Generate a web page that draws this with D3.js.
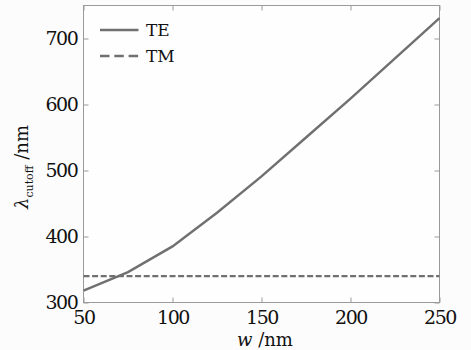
<!DOCTYPE html>
<html>
<head>
<meta charset="utf-8">
<script src="https://cdn.jsdelivr.net/npm/d3@7"></script>
<style>
  body { margin: 0; background: #fcfcfc; }
  svg { display: block; }
</style>
</head>
<body>
<svg></svg>
<script>
(function() {

  // width w (nm)
  var widths = [50, 75, 100, 125, 150, 175, 200, 225, 250];
  // cutoff wavelength, TE mode (nm)
  var teCutoff = [318, 346, 385, 436, 491, 550, 609, 670, 731];
  // cutoff wavelength, TM mode (nm), flat
  var tmCutoff = [340, 340, 340, 340, 340, 340, 340, 340, 340];
  var xTicks = [50, 100, 150, 200, 250];
  var yTicks = [300, 400, 500, 600, 700];

  var margin = {
    top: 5.5,
    right: 31.5,
    bottom: 47.5,
    left: 83.5
  },
      chartWidth = 471 - margin.left - margin.right,
      chartHeight = 350 - margin.top - margin.bottom,
      lineColor = '#707070',
      frameColor = '#9a9a9a',
      font = 'DejaVu Serif';

  var svg = d3.select('svg')
      .attr('width', 471)
      .attr('height', 350)
      .style('font-family', font)
      .style('background', '#fcfcfc');

  var chart = svg.append('g')
      .attr('transform', 'translate(' + margin.left + ',' + margin.top + ')');

  var xScale = d3.scaleLinear()
      .domain([50, 250])
      .range([0, chartWidth]);

  var yScale = d3.scaleLinear()
      .domain([300, 750])
      .range([chartHeight, 0]);

  // frame
  chart.append('rect')
      .attr('width', chartWidth)
      .attr('height', chartHeight)
      .attr('fill', '#fefefe')
      .attr('stroke', frameColor)
      .attr('stroke-width', 1);

  function styleAxis(g, labels) {
    g.attr('font-family', null).attr('font-size', null);
    g.select('.domain').remove();
    g.selectAll('.tick line').attr('stroke', frameColor);
    g.selectAll('.tick text')
        .style('display', labels ? null : 'none')
        .style('font-size', '19px')
        .style('letter-spacing', '-1.4px')
        .attr('fill', '#111');
  }

  // inward ticks on all four sides
  chart.append('g')
      .attr('transform', 'translate(0,' + chartHeight + ')')
      .call(d3.axisBottom(xScale).tickValues(xTicks).tickSize(-5).tickPadding(8))
      .call(styleAxis, true);
  chart.append('g')
      .call(d3.axisTop(xScale).tickValues(xTicks).tickSize(-5))
      .call(styleAxis, false);
  chart.append('g')
      .call(d3.axisLeft(yScale).tickValues(yTicks).tickSize(-5).tickPadding(6))
      .call(styleAxis, true);
  chart.append('g')
      .attr('transform', 'translate(' + chartWidth + ',0)')
      .call(d3.axisRight(yScale).tickValues(yTicks).tickSize(-5))
      .call(styleAxis, false);

  var lineGenerator = d3.line()
      .x(function(d, i) { return xScale(widths[i]); })
      .y(function(d) { return yScale(d); });

  var series = [
    { name: 'TE', values: teCutoff, dash: null, legendDash: null },
    { name: 'TM', values: tmCutoff, dash: '6,2.6', legendDash: '9.5,4.8' }
  ];

  chart.selectAll('.line')
      .data(series)
    .enter()
      .append('path')
      .attr('class', 'line')
      .attr('d', function(d) { return lineGenerator(d.values); })
      .attr('fill', 'none')
      .attr('stroke', lineColor)
      .attr('stroke-width', 2.4)
      .attr('stroke-dasharray', function(d) { return d.dash; });

  // legend
  var legend = chart.selectAll('.legend')
      .data(series)
    .enter()
      .append('g')
      .attr('class', 'legend')
      .attr('transform', function(d, i) { return 'translate(16.5,' + (24.5 + i * 26) + ')'; });

  legend.append('line')
      .attr('x1', 0)
      .attr('x2', 38.5)
      .attr('stroke', lineColor)
      .attr('stroke-width', 2.4)
      .attr('stroke-dasharray', function(d) { return d.legendDash; });

  legend.append('text')
      .attr('x', 46)
      .attr('dy', '0.36em')
      .attr('fill', '#111')
      .style('font-size', '17px')
      .text(function(d) { return d.name; });

  // axis titles
  var xTitle = svg.append('text')
      .attr('x', 265)
      .attr('y', 346)
      .attr('text-anchor', 'middle')
      .attr('fill', '#111')
      .style('font-size', '18px');
  xTitle.append('tspan').style('font-style', 'italic').text('w');
  xTitle.append('tspan').text(' /nm');

  var yTitle = svg.append('text')
      .attr('transform', 'translate(28,167) rotate(-90)')
      .attr('text-anchor', 'middle')
      .attr('fill', '#111')
      .style('font-size', '18px');
  yTitle.append('tspan').style('font-style', 'italic').text('λ');
  yTitle.append('tspan').attr('dy', 5).style('font-size', '11px').text('cutoff');
  yTitle.append('tspan').attr('dy', -5).text(' /nm');

})()
</script>
</body>
</html>
